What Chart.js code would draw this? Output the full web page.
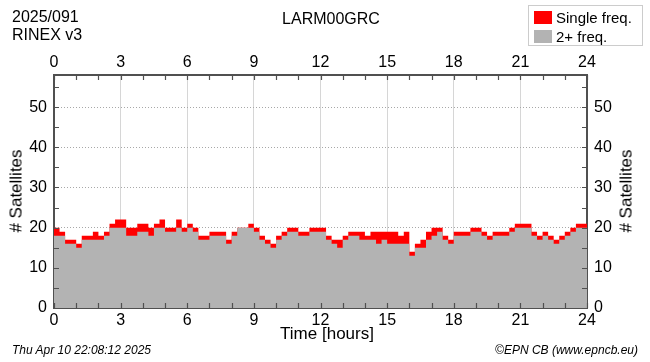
<!DOCTYPE html>
<html>
<head>
<meta charset="utf-8">
<script src="https://cdn.jsdelivr.net/npm/chart.js@4"></script>
<style>
  body { margin: 0; background: #fff; }
  #wrap { position: relative; width: 650px; height: 362px; font-family: "Liberation Sans", Arial, sans-serif; color: #000; }
  canvas { position: absolute; left: 0; top: 0; }
  .txt { position: absolute; white-space: nowrap; line-height: 1; }
  #legend { position: absolute; left: 528px; top: 5px; width: 115px; height: 41px; border: 1px solid #ccc; background: #fff; box-sizing: border-box; }
  .sw { position: absolute; width: 18px; height: 13px; }
</style>
</head>
<body>
<div id="wrap">
  <canvas id="chart" width="650" height="362"></canvas>
  <div class="txt" style="left:12px;top:9px;font-size:16px">2025/091</div>
  <div class="txt" style="left:12px;top:27px;font-size:16px">RINEX v3</div>
  <div class="txt" style="left:0;width:650px;top:11px;text-align:center;font-size:16px;padding-left:12px;box-sizing:border-box">LARM00GRC</div>
  <div id="legend">
    <div class="sw" style="left:5px;top:5px;background:#ff0000"></div>
    <div class="txt" style="left:27px;top:4px;font-size:15px">Single freq.</div>
    <div class="sw" style="left:5px;top:24px;background:#b3b3b3"></div>
    <div class="txt" style="left:27px;top:23px;font-size:15px">2+ freq.</div>
  </div>
  <div class="txt" style="left:0;width:650px;top:325px;text-align:center;font-size:17px;padding-left:4px;box-sizing:border-box">Time [hours]</div>
  <div class="txt" style="left:16px;top:191px;font-size:17px;transform:translate(0,-50%) rotate(-90deg);transform-origin:center;width:0;display:flex;justify-content:center"><span>#&nbsp;Satellites</span></div>
  <div class="txt" style="left:626px;top:191px;font-size:17px;transform:translate(0,-50%) rotate(-90deg);transform-origin:center;width:0;display:flex;justify-content:center"><span>#&nbsp;Satellites</span></div>
  <div class="txt" style="left:12px;top:344px;font-size:12px;font-style:italic">Thu Apr 10 22:08:12 2025</div>
  <div class="txt" style="right:12px;top:344px;font-size:12px;font-style:italic">©EPN CB (www.epncb.eu)</div>
</div>
<script>
// satellites tracked, one value per 15 minute slot (0:00 .. 23:45)
const slotHours = 0.25;
const totalSats = [
  19, 20, 19, 17, 17, 16, 18, 18, 19, 18, 19, 21,
  22, 22, 20, 20, 21, 21, 20, 21, 22, 20, 20, 22,
  20, 21, 20, 18, 18, 19, 19, 19, 17, 19, 20, 20,
  21, 20, 18, 17, 16, 18, 19, 20, 20, 19, 19, 20,
  20, 20, 18, 17, 17, 18, 19, 19, 19, 18, 19, 19,
  19, 19, 19, 18, 19, 14, 16, 17, 19, 20, 20, 18,
  17, 19, 19, 19, 20, 20, 19, 18, 19, 19, 19, 20,
  21, 21, 21, 19, 18, 19, 18, 17, 18, 19, 20, 21
];
const dualSats = [
  18, 18, 18, 16, 16, 15, 17, 17, 17, 17, 18, 20,
  20, 20, 18, 18, 19, 19, 18, 20, 20, 19, 19, 20,
  19, 20, 19, 17, 17, 18, 18, 18, 16, 18, 20, 20,
  20, 19, 17, 16, 15, 17, 18, 19, 19, 18, 18, 19,
  19, 19, 17, 16, 15, 17, 18, 18, 17, 17, 17, 16,
  17, 16, 16, 16, 16, 13, 15, 15, 17, 18, 19, 17,
  16, 18, 18, 18, 19, 19, 18, 17, 18, 18, 18, 19,
  20, 20, 20, 18, 17, 18, 17, 16, 17, 18, 19, 20
];
const hourTicks = [0, 1, 2, 3, 4, 5, 6, 7, 8, 9, 10, 11, 12, 13, 14, 15, 16, 17, 18, 19, 20, 21, 22, 23, 24];
const satTicks = [0, 5, 10, 15, 20, 25, 30, 35, 40, 45, 50, 55];

function toPoints(vals) {
  const pts = vals.map((v, i) => ({ x: i * slotHours, y: v }));
  pts.push({ x: 24, y: vals[vals.length - 1] });
  return pts;
}

Chart.defaults.font.family = '"Liberation Sans", Arial, sans-serif';
Chart.defaults.color = '#000';

const axisColor = '#505050';

// inward tick marks drawn on top of the fills
const innerTicks = {
  id: 'innerTicks',
  afterDatasetsDraw(chart) {
    const { ctx, chartArea: a, scales } = chart;
    ctx.save();
    ctx.strokeStyle = axisColor;
    ctx.lineWidth = 1.2;
    ctx.beginPath();
    hourTicks.forEach((h) => {
      const px = Math.round(scales.x.getPixelForValue(h)) + 0.5;
      ctx.moveTo(px, a.bottom); ctx.lineTo(px, a.bottom - 5);
      ctx.moveTo(px, a.top); ctx.lineTo(px, a.top + 5);
    });
    satTicks.forEach((s) => {
      const py = Math.round(scales.y.getPixelForValue(s)) + 0.5;
      ctx.moveTo(a.left, py); ctx.lineTo(a.left + 5, py);
      ctx.moveTo(a.right, py); ctx.lineTo(a.right - 5, py);
    });
    ctx.stroke();
    ctx.restore();
  }
};

const xAxis = (position, size) => ({
  type: 'linear',
  position: position,
  min: 0,
  max: 24,
  afterBuildTicks: (s) => { s.ticks = hourTicks.map((v) => ({ value: v })); },
  afterFit: (s) => { s.height = size; },
  ticks: {
    autoSkip: false,
    maxRotation: 0,
    padding: 3,
    font: { size: 16 },
    callback: (v) => (v % 3 === 0 ? v : '')
  },
  grid: {
    drawTicks: false,
    display: position === 'bottom',
    color: (c) => (c.tick && c.tick.value % 3 === 0 ? '#d6d6d6' : 'rgba(0,0,0,0)'),
    lineWidth: 1
  },
  border: { display: true, color: axisColor, width: 2 }
});

const yAxis = (position, size) => ({
  type: 'linear',
  position: position,
  min: 0,
  max: 58,
  afterBuildTicks: (s) => { s.ticks = satTicks.map((v) => ({ value: v })); },
  afterFit: (s) => { s.width = size; },
  ticks: {
    padding: 7,
    font: { size: 16 },
    callback: (v) => (v % 10 === 0 ? v : '')
  },
  grid: {
    drawTicks: false,
    display: position === 'left',
    color: '#a8a8a8',
    lineWidth: 1
  },
  border: { display: true, color: axisColor, width: 2, dash: [1, 2] }
});

new Chart(document.getElementById('chart'), {
  type: 'line',
  data: {
    datasets: [
      {
        label: '2+ freq.',
        data: toPoints(dualSats),
        stepped: 'after',
        fill: 'origin',
        backgroundColor: '#b3b3b3',
        borderColor: 'rgba(0,0,0,0)',
        borderWidth: 0,
        pointRadius: 0
      },
      {
        label: 'Single freq.',
        data: toPoints(totalSats),
        stepped: 'after',
        fill: 'origin',
        backgroundColor: '#ff0000',
        borderColor: 'rgba(0,0,0,0)',
        borderWidth: 0,
        pointRadius: 0
      }
    ]
  },
  options: {
    responsive: false,
    animation: false,
    layout: { padding: 0 },
    plugins: {
      legend: { display: false },
      title: { display: false },
      tooltip: { enabled: false }
    },
    scales: {
      x: xAxis('bottom', 54),
      x2: xAxis('top', 75),
      y: yAxis('left', 54),
      y2: yAxis('right', 63)
    }
  },
  plugins: [innerTicks]
});
</script>
</body>
</html>
